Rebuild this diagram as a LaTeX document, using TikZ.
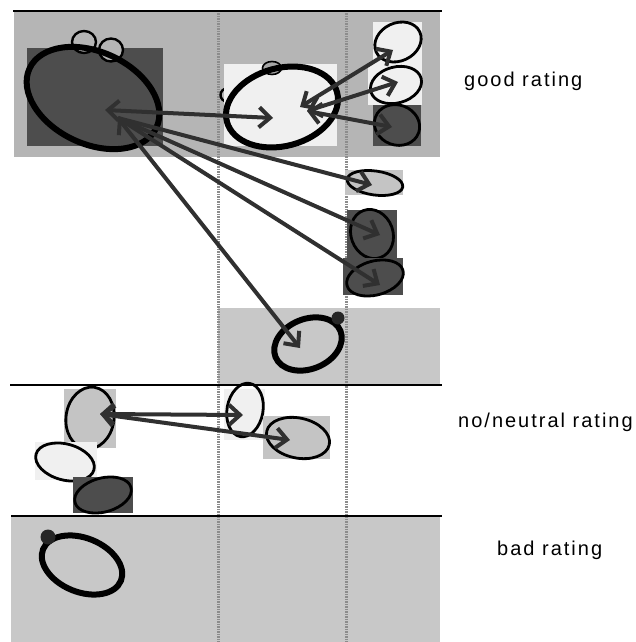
\documentclass[tikz,border=0pt]{standalone}
\usepackage{fontspec}
\newfontfamily\labfont[LetterSpace=10]{Liberation Sans}
\usetikzlibrary{shapes.geometric,arrows.meta}
\definecolor{bandtop}{HTML}{B5B5B5}
\definecolor{bandlow}{HTML}{C8C8C8}
\definecolor{boxdark}{HTML}{4D4D4D}
\definecolor{boxlight}{HTML}{F0F0F0}
\definecolor{boxmid}{HTML}{C4C4C4}
\definecolor{arrcol}{HTML}{303030}
\definecolor{dotcol}{HTML}{8C8C8C}
\tikzset{
  blob/.style={ellipse, draw=black, line width=2.8pt, inner sep=0pt},
  thickblob/.style={ellipse, draw=black, line width=6pt, inner sep=0pt},
  arr/.style={draw=arrcol, line width=4pt, -{Straight Barb[length=11pt,width=20pt,line width=4pt]}},
  biarr/.style={draw=arrcol, line width=4pt, {Straight Barb[length=11pt,width=20pt,line width=4pt]}-{Straight Barb[length=11pt,width=20pt,line width=4pt]}},
  rule/.style={draw=black, line width=2.8pt},
  divider/.style={draw=dotcol, line width=3pt, dash pattern=on 1.5pt off 1pt},
  lab/.style={font=\labfont\fontsize{20pt}{22pt}\selectfont, anchor=base west, inner sep=0pt},
}
\begin{document}
\begin{tikzpicture}[x=1pt,y=-1pt]
\useasboundingbox (0,0) rectangle (635,642);
% bands
\fill[bandtop] (14,11) rectangle (440,157);
\fill[bandlow] (218,308) rectangle (440,385);
\fill[bandlow] (11,516) rectangle (440,642);
% dotted dividers
\draw[divider] (218,11) -- (218,642);
\draw[divider] (346,11) -- (346,642);
% horizontal rules
\draw[rule] (13,11) -- (442,11);
\draw[rule] (10,385) -- (442,385);
\draw[rule] (11,516) -- (442,516);
% ---- good rating row
\fill[boxdark] (27,48) rectangle (163,146);
\node[ellipse, draw=black, line width=2.4pt, fill=bandtop, minimum width=24pt, minimum height=22pt] (c1) at (84,42) {};
\node[ellipse, draw=black, line width=2.4pt, fill=bandtop, minimum width=24pt, minimum height=23pt] (c2) at (111,50) {};
\node[thickblob, minimum width=140pt, minimum height=92pt, rotate=-25] (big) at (93,98) {};
\node[ellipse, draw=black, line width=2.4pt, fill=bandtop, minimum width=13pt, minimum height=13pt] (arc) at (227,95) {};
\fill[boxlight] (224,64) rectangle (337,146);
\node[ellipse, draw=black, line width=1.6pt, fill=gray!70, minimum width=19pt, minimum height=13pt] (gdot) at (272,68) {};
\node[thickblob, minimum width=114pt, minimum height=78pt, rotate=15] (mid) at (282,107) {};
\fill[boxlight] (373,22) rectangle (422,63);
\fill[boxlight] (368,63) rectangle (422,105);
\fill[boxdark] (373,105) rectangle (421,146);
\node[blob, minimum width=48pt, minimum height=38pt, rotate=25] (r1) at (398,42) {};
\node[blob, minimum width=52pt, minimum height=36pt, rotate=15] (r2) at (396,85) {};
\node[blob, minimum width=46pt, minimum height=40pt, rotate=-20] (r3) at (397,125) {};
% right column below band
\fill[boxmid] (345,170) rectangle (403,195);
\node[blob, minimum width=56pt, minimum height=24pt, rotate=-8] (s1) at (375,183) {};
\fill[boxdark] (347,210) rectangle (397,258);
\node[blob, minimum width=42pt, minimum height=50pt, rotate=20] (s2) at (372,234) {};
\fill[boxdark] (343,258) rectangle (403,295);
\node[blob, minimum width=58pt, minimum height=34pt, rotate=15] (s3) at (375,278) {};
% middle-row blob
\node[thickblob, minimum width=70pt, minimum height=50pt, rotate=22] (low) at (308,344) {};
\node[circle, fill=black!85, minimum size=13pt, inner sep=0pt] (lowdot) at (338,318) {};
% arrow end points
\coordinate (bigA) at (105,110);
\coordinate (bigB) at (118,118);
\coordinate (midA) at (273,118);
\coordinate (midB) at (300,107);
\coordinate (midC) at (307,111);
\coordinate (r1t) at (393,50);
\coordinate (r2t) at (398,82);
\coordinate (r3t) at (392,127);
\coordinate (s1t) at (372,185);
\coordinate (s2t) at (380,235);
\coordinate (s3t) at (380,285);
\coordinate (lowt) at (300,348);
\draw[biarr] (bigA) -- (midA);
\draw[arr] (bigB) -- (s1t);
\draw[arr] (bigB) -- (s2t);
\draw[arr] (bigB) -- (s3t);
\draw[biarr] (bigB) -- (lowt);
\draw[biarr] (midB) -- (r1t);
\draw[biarr] (midC) -- (r2t);
\draw[biarr] (midC) -- (r3t);
% ---- neutral row
\fill[boxmid] (64,389) rectangle (116,448);
\node[blob, minimum width=48pt, minimum height=62pt, rotate=-8] (nA) at (90,418) {};
\fill[boxlight] (35,442) rectangle (97,480);
\node[blob, minimum width=60pt, minimum height=36pt, rotate=-15] (nB) at (65,462) {};
\fill[boxdark] (73,477) rectangle (133,513);
\node[blob, minimum width=58pt, minimum height=34pt, rotate=15] (nC) at (103,495) {};
\fill[boxlight] (224,389) rectangle (265,440);
\node[blob, minimum width=36pt, minimum height=54pt, rotate=-10] (nD) at (245,410) {};
\fill[boxmid] (263,416) rectangle (330,459);
\node[blob, minimum width=64pt, minimum height=40pt, rotate=-12] (nE) at (298,438) {};
\coordinate (nAt) at (100,414);
\coordinate (nDt) at (243,415);
\coordinate (nEt) at (290,440);
\draw[biarr] (nAt) -- (nDt);
\draw[biarr] (nAt) -- (nEt);
% ---- bad row
\node[thickblob, minimum width=84pt, minimum height=54pt, rotate=-22] (bad) at (82,565) {};
\node[circle, fill=black!85, minimum size=15pt, inner sep=0pt] (baddot) at (48,537) {};
% labels
\node[lab] (lgood) at (464,86) {good rating};
\node[lab] (lneu) at (458,427) {no/neutral rating};
\node[lab] (lbad) at (497,555) {bad rating};
\end{tikzpicture}
\end{document}
